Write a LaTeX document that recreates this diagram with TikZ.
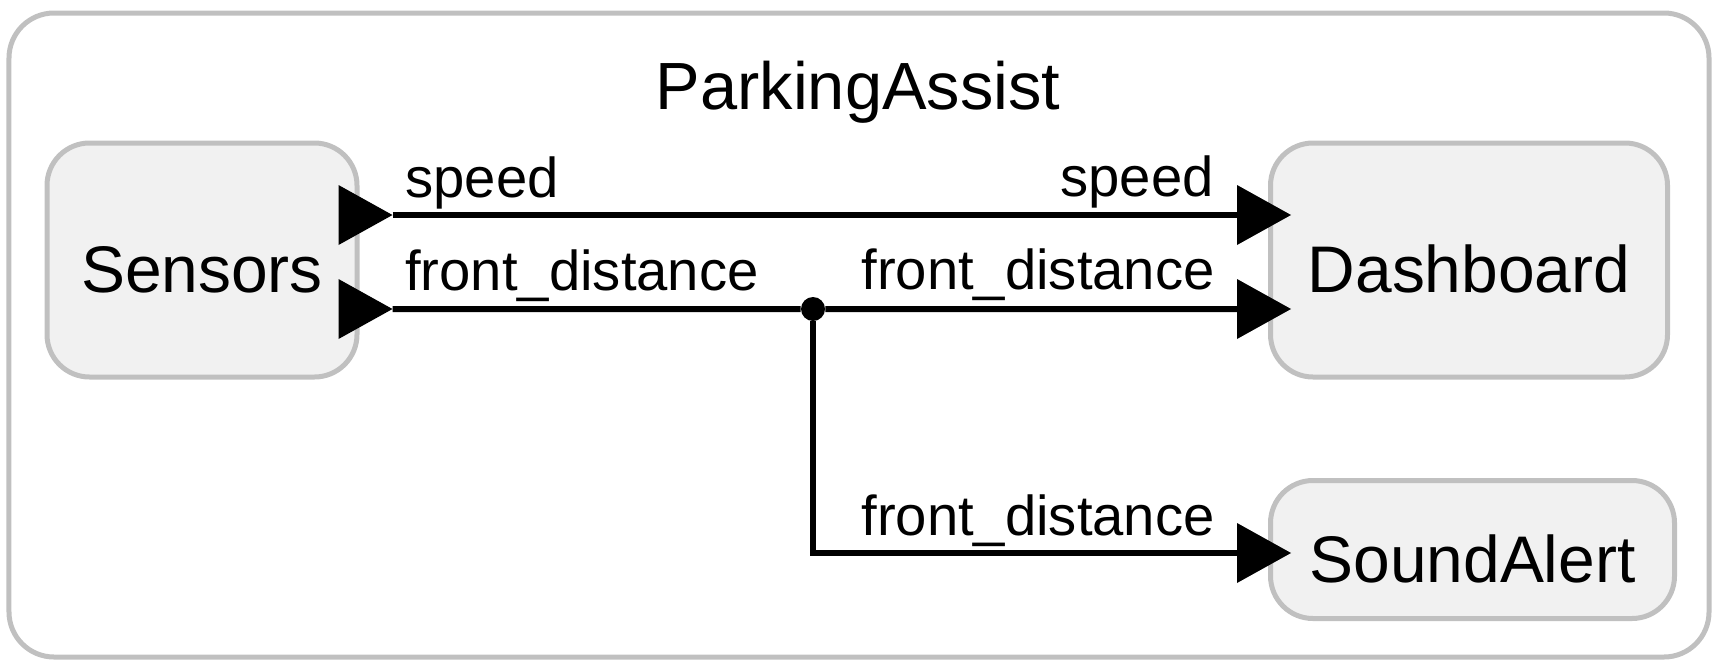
\documentclass[tikz,border=0pt]{standalone}
\usepackage{fontspec}
\setmainfont{Liberation Sans}
\usetikzlibrary{arrows.meta,positioning,calc}
\definecolor{frame}{HTML}{C0C0C0}
\definecolor{boxfill}{HTML}{F1F1F1}
\tikzset{
  block/.style={draw=frame, fill=boxfill, line width=0.1cm, rounded corners=0.85cm,
    inner sep=0pt, text height=1.3cm, text depth=0pt, font=\fontsize{37.5}{45}\selectfont},
  lbl/.style={inner sep=0pt, font=\fontsize{32}{38}\selectfont},
  wire/.style={line width=0.12cm},
  intip/.tip={Triangle[length=1.08cm,width=1.2cm,line width=0pt]},
  outtip/.tip={Triangle[reversed,length=1.08cm,width=1.2cm,line width=0pt]},
}

\begin{document}
\begin{tikzpicture}
  \useasboundingbox (0,0) rectangle (34.36,-13.36);
  % outer frame
  \draw[frame, line width=0.1cm, rounded corners=0.9cm] (0.18,-0.26) rectangle (34.18,-13.14);
  \node[anchor=base, inner sep=0pt, font=\fontsize{38}{46}\selectfont] (title) at (17.16,-2.18) {ParkingAssist};
  % blocks
  \node[block, minimum width=6.2cm, minimum height=4.68cm] (Sensors) at (4.04,-5.2) {Sensors};
  \node[block, minimum width=7.94cm, minimum height=4.68cm] (Dashboard) at (29.38,-5.2) {Dashboard};
  \node[block, minimum width=8.08cm, minimum height=2.76cm] (SoundAlert) at (29.45,-10.99) {SoundAlert};
  % branch point
  \node[circle, fill, inner sep=0pt, minimum size=0.48cm] (split) at (16.26,-6.18) {};
  % wires
  \draw[wire, outtip-intip] ([xshift=-0.42cm,yshift=0.9cm]Sensors.east) -- ([xshift=0.46cm,yshift=0.9cm]Dashboard.west);
  \draw[wire, outtip-] ([xshift=-0.42cm,yshift=-0.98cm]Sensors.east) -- (split);
  \draw[wire, -intip] (split) -- ([xshift=0.46cm,yshift=-0.98cm]Dashboard.west);
  \draw[wire, -intip] (split) |- ([xshift=0.46cm,yshift=-0.07cm]SoundAlert.west);
  % labels
  \node[lbl, anchor=base west] (spdsrc) at (8.1,-3.94) {speed};
  \node[lbl, anchor=base west] (fdsrc) at (8.1,-5.8) {front\_distance};
  \node[lbl, anchor=base east] (spddst) at (24.28,-3.92) {speed};
  \node[lbl, anchor=base east] (fddst) at (24.3,-5.78) {front\_distance};
  \node[lbl, anchor=base east] (fdalert) at (24.3,-10.7) {front\_distance};
\end{tikzpicture}
\end{document}
